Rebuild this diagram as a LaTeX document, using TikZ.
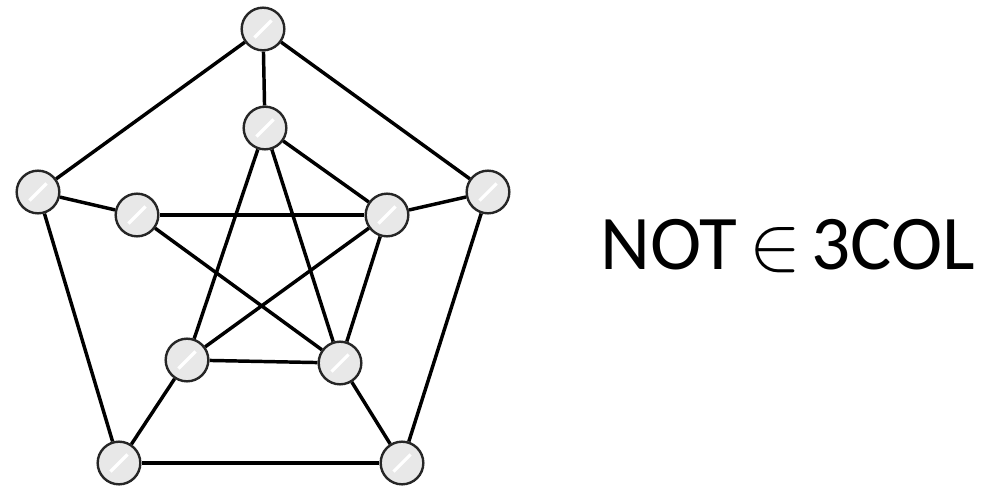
\documentclass[tikz,border=0pt]{standalone}
\usepackage{fontspec}
\usepackage{unicode-math}
\setmainfont{Carlito}
\usepackage{tikz}
\usetikzlibrary{calc}

\begin{document}
\begin{tikzpicture}[x=0.75pt, y=-0.75pt,
  vtx/.style={circle, draw=black!85, line width=1.8pt, fill=gray!18,
    minimum size=32pt, inner sep=0pt,
    path picture={\draw[white, line width=2.4pt]
      ($(path picture bounding box.south west)!0.3!(path picture bounding box.north east)$) --
      ($(path picture bounding box.south west)!0.7!(path picture bounding box.north east)$);}},
  edge/.style={line width=2.6pt, black}]
  \useasboundingbox (0,0) rectangle (984,486);
  % outer ring, then inner ring
  \foreach \n/\x/\y in {ot/263/29, or/488/192, obr/402/463, obl/119/463, ol/38/192,
                        it/265/128, ir/387/215, ibr/340/363, ibl/187/360, il/137/215}
    \node[vtx] (\n) at (\x,\y) {};
  \foreach \a/\b in {ot/or, or/obr, obr/obl, obl/ol, ol/ot,
                     ot/it, or/ir, obr/ibr, obl/ibl, ol/il,
                     il/ir, il/ibr, it/ibl, it/ibr, ir/ibl,
                     it/ir, ir/ibr, ibl/ibr}
    \draw[edge] (\a) -- (\b);
  \node[font=\fontsize{58}{64}\selectfont, anchor=west] (lbl) at (596,246)
    {NOT\hspace{9pt}$\mathord{\in}$\hspace{8pt}3COL};
\end{tikzpicture}
\end{document}
